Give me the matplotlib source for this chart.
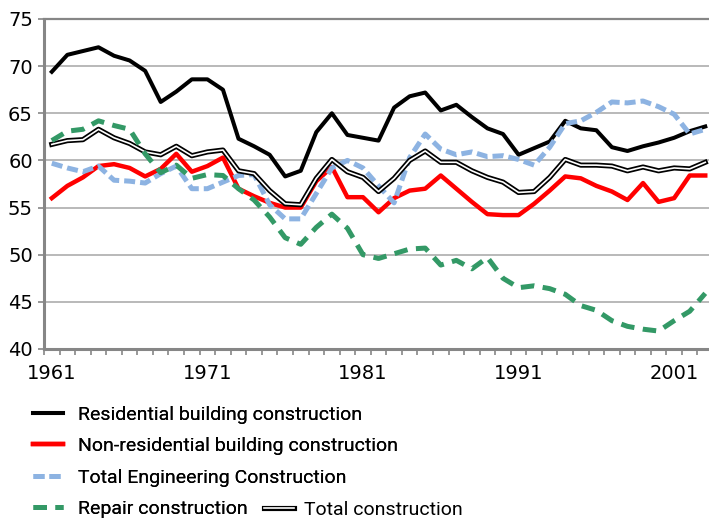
import matplotlib
matplotlib.use("Agg")
import matplotlib.pyplot as plt
from matplotlib.legend_handler import HandlerTuple

# data (index values, 1961-2003)
years = list(range(1961, 2004))
residential = [69.4, 71.2, 71.6, 72.0, 71.1, 70.6, 69.5, 66.2, 67.3, 68.6,
               68.6, 67.5, 62.3, 61.5, 60.6, 58.3, 58.9, 63.0, 65.0, 62.7,
               62.4, 62.1, 65.6, 66.8, 67.2, 65.3, 65.9, 64.6, 63.4, 62.8,
               60.6, 61.3, 62.0, 64.2, 63.4, 63.2, 61.4, 61.0, 61.5, 61.9,
               62.4, 63.1, 63.6]
non_residential = [56.0, 57.3, 58.2, 59.4, 59.6, 59.2, 58.3, 59.1, 60.7, 58.8,
                   59.4, 60.3, 57.0, 56.2, 55.5, 55.0, 55.0, 57.8, 59.3, 56.1,
                   56.1, 54.5, 56.0, 56.8, 57.0, 58.4, 57.0, 55.6, 54.3, 54.2,
                   54.2, 55.4, 56.8, 58.3, 58.1, 57.3, 56.7, 55.8, 57.6, 55.6,
                   56.0, 58.4, 58.4]
engineering = [59.7, 59.2, 58.8, 59.4, 57.9, 57.8, 57.6, 58.6, 59.4, 57.0,
               57.0, 57.7, 58.4, 58.5, 55.3, 53.8, 53.8, 56.5, 59.2, 60.0,
               59.2, 57.3, 55.5, 60.3, 62.8, 61.2, 60.6, 60.9, 60.4, 60.5,
               60.1, 59.5, 61.4, 63.9, 64.2, 65.1, 66.2, 66.1, 66.3, 65.7,
               64.9, 62.8, 63.3]
repair = [62.1, 63.1, 63.3, 64.2, 63.7, 63.3, 60.7, 58.7, 59.5, 58.1,
          58.5, 58.4, 57.0, 55.8, 54.0, 51.8, 51.1, 52.9, 54.3, 52.8,
          50.0, 49.6, 50.1, 50.6, 50.7, 48.9, 49.4, 48.5, 49.7, 47.5,
          46.5, 46.7, 46.4, 45.8, 44.6, 44.1, 43.0, 42.4, 42.1, 41.9,
          43.0, 44.0, 45.9]
total = [61.7, 62.1, 62.2, 63.3, 62.4, 61.8, 60.9, 60.6, 61.5, 60.5,
         60.9, 61.1, 58.9, 58.6, 56.8, 55.4, 55.3, 58.1, 60.1, 58.8,
         58.2, 56.7, 58.1, 60.0, 61.0, 59.8, 59.8, 58.9, 58.2, 57.7,
         56.6, 56.7, 58.2, 60.1, 59.5, 59.5, 59.4, 58.9, 59.3, 58.9,
         59.2, 59.1, 59.8]
year_labels = [1961, 1971, 1981, 1991, 2001]

fig = plt.figure(figsize=(7.09, 5.19), dpi=100)
ax = fig.add_axes([0.0621, 0.3276, 0.9436, 0.6358])

l_res, = ax.plot(years, residential, color="black", lw=2.9, zorder=3)
l_non, = ax.plot(years, non_residential, color="#ff0000", lw=3.2, zorder=3)
l_eng, = ax.plot(years, engineering, color="#8db3e2", lw=3.6, dashes=(2.2, 1.0), zorder=3)
l_tot_b, = ax.plot(years, total, color="black", lw=3.7, zorder=4)
l_tot_w, = ax.plot(years, total, color="white", lw=1.2, zorder=4)
l_rep, = ax.plot(years, repair, color="#339966", lw=3.6, dashes=(2.7, 1.7), zorder=5)

ax.set_xlim(1960.5, 2003.5)
ax.set_ylim(40, 75)
ax.set_yticks(range(40, 80, 5))
ax.set_xticks(year_labels)
ax.set_xticks([y + 0.5 for y in range(1960, 2004)], minor=True)
ax.tick_params(axis="x", which="major", length=0, pad=11, labelsize=14)
ax.tick_params(axis="x", which="minor", length=4, width=1.2, color="#868686")
ax.tick_params(axis="y", length=4, width=1.2, color="#868686", pad=4, labelsize=14)

ax.grid(axis="y", color="#a6a6a6", lw=1.1)
ax.set_axisbelow(True)
for s in ["left", "bottom"]:
    ax.spines[s].set_color("#868686")
    ax.spines[s].set_linewidth(2.2)
ax.spines["top"].set_color("#868686")
ax.spines["top"].set_linewidth(1.6)
ax.spines["right"].set_visible(False)

font = {"family": "Roboto", "size": 14}
leg1 = fig.legend([l_res, l_non, l_eng, l_rep],
                  ["Residential building construction",
                   "Non-residential building construction",
                   "Total Engineering Construction",
                   "Repair construction"],
                  loc="upper left", bbox_to_anchor=(0.0465, 0.218), frameon=False,
                  prop=font, handlelength=1.54, handletextpad=0.77,
                  labelspacing=0.69, borderpad=0, borderaxespad=0)
fig.add_artist(leg1)
fig.legend([(l_tot_b, l_tot_w)], ["Total construction"],
           handler_map={tuple: HandlerTuple(ndivide=1)},
           loc="upper left", bbox_to_anchor=(0.373, 0.035), frameon=False,
           prop=font, handlelength=1.54, handletextpad=0.5,
           borderpad=0, borderaxespad=0)

fig.savefig("out.png", dpi=100)
